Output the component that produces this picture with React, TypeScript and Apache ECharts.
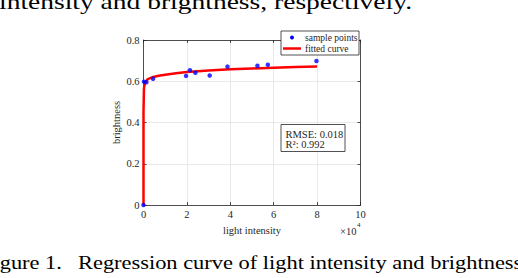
import React, { useEffect, useRef } from "react";
import * as echarts from "echarts";

// x values are in units of 10^4 (light intensity), y is brightness
const sampleX = [0, 0.02, 0.13, 0.44, 1.96, 2.14, 2.39, 3.05, 3.87, 5.25, 5.73, 7.97];
const sampleY = [0, 0.598, 0.595, 0.612, 0.626, 0.653, 0.641, 0.628, 0.671, 0.675, 0.68, 0.698];

const curveX = [0, 0, 0.02, 0.05, 0.1, 0.2, 0.4, 0.7, 1.0, 1.5, 2.0, 3.0, 4.0, 5.0, 6.0, 7.0, 8.0];
const curveY = [0, 0.45, 0.565, 0.585, 0.598, 0.61, 0.619, 0.627, 0.632, 0.639, 0.645, 0.652, 0.658, 0.662, 0.666, 0.669, 0.672];

const xTicks = [0, 2, 4, 6, 8, 10];
const yTicks = [0, 0.2, 0.4, 0.6, 0.8];

const seriesNames = ["sample points", "fitted curve"];
const statsLines = ["RMSE: 0.018", "R²: 0.992"];
const axisNames = { x: "light intensity", y: "brightness", xExp: "×10", xExpPow: "4" };
const bodyText = "intensity and brightness, respectively.";
const captionLabel = "Figure 1.";
const captionText = "Regression curve of light intensity and brightness";

const FONT = "Liberation Serif";
const AX = "#262626";

export default function App() {
  const ref = useRef<HTMLDivElement>(null);
  useEffect(() => {
    if (!ref.current) return;
    const chart = echarts.init(ref.current, undefined, { renderer: "svg" });
    const gl = 143.5, gt = 40, gw = 217, gh = 165;
    const tickStyle = { inside: true, length: 3, lineStyle: { color: AX, width: 0.8 } };
    const lineStyle = { show: true, lineStyle: { color: AX, width: 0.8 } };
    const labelStyle = { fontFamily: FONT, fontSize: 10.5, color: AX };
    const sxTop = 1.31;
    const sxCap = 1.18;
    chart.setOption({
      animation: false,
      backgroundColor: "#ffffff",
      grid: { left: gl, top: gt, width: gw, height: gh },
      xAxis: [
        {
          type: "value", min: xTicks[0], max: xTicks[xTicks.length - 1], interval: 2,
          position: "bottom",
          axisLine: { ...lineStyle, onZero: false },
          axisTick: tickStyle,
          axisLabel: { ...labelStyle, margin: 4 },
          splitLine: { show: true, lineStyle: { color: "#e3e3e3", width: 0.8 } },
          name: axisNames.x, nameLocation: "middle", nameGap: 17,
          nameTextStyle: { fontFamily: FONT, fontSize: 10.5, color: AX },
        },
        {
          type: "value", min: xTicks[0], max: xTicks[xTicks.length - 1], interval: 2,
          position: "top",
          axisLine: { ...lineStyle, onZero: false },
          axisTick: tickStyle,
          axisLabel: { show: false },
          splitLine: { show: false },
        },
      ],
      yAxis: [
        {
          type: "value", min: yTicks[0], max: yTicks[yTicks.length - 1], interval: 0.2,
          position: "left",
          axisLine: { ...lineStyle, onZero: false },
          axisTick: tickStyle,
          axisLabel: { ...labelStyle, margin: 4, formatter: (v: number) => (v === 0 ? "0" : v.toFixed(1)) },
          splitLine: { show: true, lineStyle: { color: "#e3e3e3", width: 0.8 } },
          name: axisNames.y, nameLocation: "middle", nameGap: 20,
          nameTextStyle: { fontFamily: FONT, fontSize: 10.5, color: AX },
        },
        {
          type: "value", min: yTicks[0], max: yTicks[yTicks.length - 1], interval: 0.2,
          position: "right",
          axisLine: { ...lineStyle, onZero: false },
          axisTick: tickStyle,
          axisLabel: { show: false },
          splitLine: { show: false },
        },
      ],
      series: [
        {
          name: seriesNames[1],
          type: "line",
          data: curveX.map((x, i) => [x, curveY[i]]),
          showSymbol: false,
          lineStyle: { color: "#ff0000", width: 2.5 },
          itemStyle: { color: "#ff0000" },
          z: 2,
        },
        {
          name: seriesNames[0],
          type: "scatter",
          data: sampleX.map((x, i) => [x, sampleY[i]]),
          symbolSize: 4.5,
          itemStyle: { color: "#0000ff" },
          z: 3,
        },
      ],
      graphic: [
        // legend
        { type: "rect", shape: { x: 281, y: 31, width: 78, height: 24 }, style: { fill: "#fff", stroke: AX, lineWidth: 0.8 }, z: 10 },
        { type: "circle", shape: { cx: 292, cy: 37.5, r: 2 }, style: { fill: "#0000ff" }, z: 11 },
        { type: "line", shape: { x1: 283, y1: 48.5, x2: 301, y2: 48.5 }, style: { stroke: "#ff0000", lineWidth: 2.5 }, z: 11 },
        { type: "text", x: 305, y: 37.5, style: { text: seriesNames[0], font: `9.5px '${FONT}'`, fill: AX, verticalAlign: "middle" }, z: 11 },
        { type: "text", x: 305, y: 48.5, style: { text: seriesNames[1], font: `9.5px '${FONT}'`, fill: AX, verticalAlign: "middle" }, z: 11 },
        // stats box
        { type: "rect", shape: { x: 281, y: 124.5, width: 64, height: 27 }, style: { fill: "#fff", stroke: AX, lineWidth: 0.8 }, z: 10 },
        { type: "text", x: 285.5, y: 134, style: { text: statsLines[0], font: `10.5px '${FONT}'`, fill: AX, verticalAlign: "middle" }, z: 11 },
        { type: "text", x: 285.5, y: 144, style: { text: statsLines[1], font: `10.5px '${FONT}'`, fill: AX, verticalAlign: "middle" }, z: 11 },
        // exponent
        { type: "text", x: 340, y: 231, style: { text: axisNames.xExp, font: `10.5px '${FONT}'`, fill: AX, verticalAlign: "middle" } },
        { type: "text", x: 357, y: 225, style: { text: axisNames.xExpPow, font: `7px '${FONT}'`, fill: AX, verticalAlign: "middle" } },
        // surrounding page text
        { type: "text", x: -1, y: 12.5, scaleX: sxTop, style: { text: bodyText, font: `21px '${FONT}'`, fill: "#000", verticalAlign: "bottom" } },
        { type: "text", x: -19, y: 272, scaleX: sxCap, style: { text: captionLabel, font: `19px '${FONT}'`, fill: "#000", verticalAlign: "bottom" } },
        { type: "text", x: 78, y: 272, scaleX: sxCap, style: { text: captionText, font: `19px '${FONT}'`, fill: "#000", verticalAlign: "bottom" } },
      ],
    });
    return () => chart.dispose();
  }, []);
  return (
    <div
      ref={ref}
      style={{ position: "fixed", left: 0, top: 0, width: 518, height: 278, background: "#fff" }}
    />
  );
}
